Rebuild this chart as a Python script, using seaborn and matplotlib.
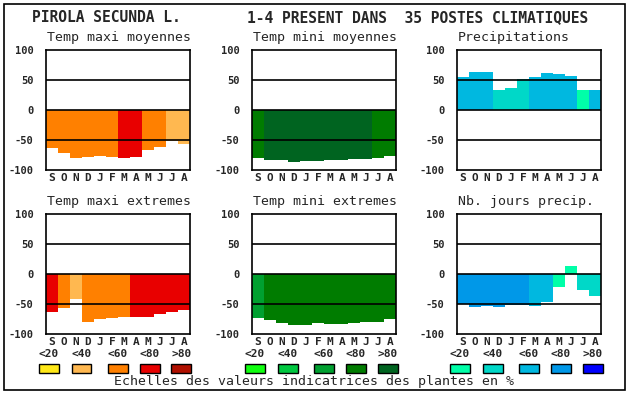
import pandas as pd
import matplotlib
matplotlib.use("Agg")
import matplotlib.pyplot as plt
import seaborn as sns
from matplotlib.patches import Rectangle

# taille en pixels
W, H = 630, 394

MONTHS = ["S", "O", "N", "D", "J", "F", "M", "A", "M", "J", "J", "A"]
CLASS_LABELS = ["<20", "<40", "<60", "<80", ">80"]

# échelles de couleur (classes <20 ... >80)
SCALE_TMAX = ["#FFE818", "#FFB850", "#FF8000", "#E80000", "#B01000"]
SCALE_TMIN = ["#10FF10", "#00C840", "#00A030", "#007C00", "#006420"]
SCALE_EAU = ["#00FFA8", "#00D8C8", "#00B8E0", "#0098E8", "#0000FF"]

tmax_moy = [-64, -72, -80, -78, -76, -78, -80, -78, -66, -62, -52, -57]
tmax_moy_cls = [2, 2, 2, 2, 2, 2, 3, 3, 2, 2, 1, 1]

tmin_moy = [-80, -84, -84, -87, -85, -85, -84, -84, -82, -82, -80, -77]
tmin_moy_cls = [3, 4, 4, 4, 4, 4, 4, 4, 4, 4, 3, 3]

precip = [55, 64, 64, 34, 37, 52, 55, 62, 60, 57, 34, 34]
precip_cls = [2, 2, 2, 1, 1, 1, 2, 2, 2, 2, 0, 2]

tmax_ext = [-64, -56, -42, -80, -75, -74, -71, -72, -72, -67, -64, -60]
tmax_ext_cls = [3, 2, 1, 2, 2, 2, 2, 3, 3, 3, 3, 3]

tmin_ext = [-74, -77, -82, -85, -85, -82, -84, -84, -82, -80, -80, -75]
tmin_ext_cls = [2, 3, 3, 3, 3, 3, 3, 3, 3, 3, 3, 3]

nb_jours = [-50, -55, -54, -55, -52, -52, -54, -46, -21, 14, -27, -37]
nb_jours_cls = [3, 3, 3, 3, 3, 3, 2, 2, 0, 0, 1, 1]

PANELS = [
    ("Temp maxi moyennes", tmax_moy, tmax_moy_cls, SCALE_TMAX),
    ("Temp mini moyennes", tmin_moy, tmin_moy_cls, SCALE_TMIN),
    ("Precipitations", precip, precip_cls, SCALE_EAU),
    ("Temp maxi extremes", tmax_ext, tmax_ext_cls, SCALE_TMAX),
    ("Temp mini extremes", tmin_ext, tmin_ext_cls, SCALE_TMIN),
    ("Nb. jours precip.", nb_jours, nb_jours_cls, SCALE_EAU),
]

sns.set_style("white")
plt.rcParams["font.family"] = ["DejaVu Sans Mono"]

fig = plt.figure(figsize=(W / 100, H / 100), dpi=100)

# positions des axes (pixels)
LEFTS = [46, 252, 457]
TOPS = [50, 214]
AX_W, AX_H = 144, 120


def fx(px):
    return px / W


def fy(py):
    return 1 - py / H


for i, (title, vals, cls, scale) in enumerate(PANELS):
    row, col = divmod(i, 3)
    left, top = LEFTS[col], TOPS[row]
    ax = fig.add_axes([fx(left), fy(top + AX_H), AX_W / W, AX_H / H])

    df = pd.DataFrame({
        "pos": range(len(vals)),
        "val": vals,
        "cls": [CLASS_LABELS[c] for c in cls],
    })
    pal = {lab: scale[k] for k, lab in enumerate(CLASS_LABELS)}
    sns.barplot(data=df, x="pos", y="val", hue="cls", palette=pal,
                dodge=False, width=1, saturation=1, legend=False,
                errorbar=None, linewidth=0, ax=ax)

    for yl in [50, 0, -50]:
        ax.axhline(yl, color="black", lw=1.2, zorder=3)

    ax.set_xlim(-0.5, 11.5)
    ax.set_ylim(-100, 100)
    ax.set_xticks(range(12))
    ax.set_xticklabels(MONTHS, fontweight="bold", fontsize=8)
    ax.set_yticks([100, 50, 0, -50, -100])
    ax.set_yticklabels(["100", "50", "0", "-50", "-100"], fontweight="bold", fontsize=7.5)
    ax.tick_params(axis="y", length=0, pad=9)
    ax.tick_params(axis="x", length=0, pad=2)
    ax.set_xlabel("")
    ax.set_ylabel("")
    for sp in ax.spines.values():
        sp.set_color("black")
        sp.set_linewidth(1.2)

    fig.text(fx(left + 1), fy(top - 12), title, fontsize=9.5, va="center", ha="left")

# échelles sous la deuxième ligne
BOX_OFFSETS = [2.5, 35.5, 71.5, 103.5, 135.5]
for col, scale in enumerate([SCALE_TMAX, SCALE_TMIN, SCALE_EAU]):
    for k, lab in enumerate(CLASS_LABELS):
        cx = LEFTS[col] + BOX_OFFSETS[k]
        fig.text(fx(cx), fy(354), lab, fontsize=8, fontweight="bold",
                 ha="center", va="center")
        fig.add_artist(Rectangle((fx(cx - 10), fy(373)), 20 / W, 9 / H,
                                 transform=fig.transFigure, facecolor=scale[k],
                                 edgecolor="black", lw=1))

fig.text(fx(32), fy(18), "PIROLA SECUNDA L.", fontsize=10.5, fontweight="bold",
         ha="left", va="center")
fig.text(fx(247), fy(18), "1-4 PRESENT DANS  35 POSTES CLIMATIQUES", fontsize=10.5,
         fontweight="bold", ha="left", va="center")
fig.text(fx(314), fy(382), "Echelles des valeurs indicatrices des plantes en %",
         fontsize=9.5, ha="center", va="center")

# cadre
fig.add_artist(Rectangle((fx(4), fy(390)), 621 / W, 386 / H, transform=fig.transFigure,
                         facecolor="none", edgecolor="black", lw=1.2))

fig.savefig("out.png", dpi=100)
